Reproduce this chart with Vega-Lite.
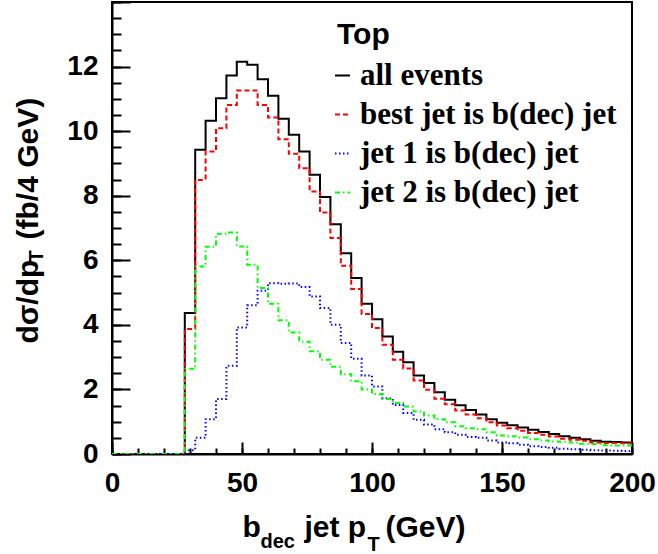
{
 "$schema": "https://vega.github.io/schema/vega-lite/v6.json",
 "width": 520, "height": 452,
 "autosize": {"type": "none"},
 "padding": {"left": 112, "top": 2, "right": 26, "bottom": 100},
 "background": "white",
 "config": {
  "view": {"stroke": "black", "strokeWidth": 2},
  "font": "Liberation Sans",
  "axis": {"grid": false, "domainColor": "black", "tickColor": "black", "labelColor": "black", "titleColor": "black", "domainWidth": 2, "tickWidth": 2, "labelFont": "Liberation Sans", "labelFontWeight": "bold", "labelFontSize": 28, "titleFont": "Liberation Sans", "titleFontWeight": "bold", "titleFontSize": 30, "labelFlush": false, "labelBound": false, "labelOverlap": false}
 },
 "data": {"values": [
  {"lo":0,"hi":4,"all events":0,"best jet is b(dec) jet":0,"jet 1 is b(dec) jet":0,"jet 2 is b(dec) jet":0},
  {"lo":4,"hi":8,"all events":0,"best jet is b(dec) jet":0,"jet 1 is b(dec) jet":0,"jet 2 is b(dec) jet":0},
  {"lo":8,"hi":12,"all events":0,"best jet is b(dec) jet":0,"jet 1 is b(dec) jet":0,"jet 2 is b(dec) jet":0},
  {"lo":12,"hi":16,"all events":0,"best jet is b(dec) jet":0,"jet 1 is b(dec) jet":0,"jet 2 is b(dec) jet":0},
  {"lo":16,"hi":20,"all events":0,"best jet is b(dec) jet":0,"jet 1 is b(dec) jet":0,"jet 2 is b(dec) jet":0},
  {"lo":20,"hi":24,"all events":0,"best jet is b(dec) jet":0,"jet 1 is b(dec) jet":0,"jet 2 is b(dec) jet":0},
  {"lo":24,"hi":28,"all events":0,"best jet is b(dec) jet":0,"jet 1 is b(dec) jet":0,"jet 2 is b(dec) jet":0},
  {"lo":28,"hi":32,"all events":4.37,"best jet is b(dec) jet":3.87,"jet 1 is b(dec) jet":0.12,"jet 2 is b(dec) jet":2.64},
  {"lo":32,"hi":36,"all events":9.42,"best jet is b(dec) jet":8.49,"jet 1 is b(dec) jet":0.50,"jet 2 is b(dec) jet":5.81},
  {"lo":36,"hi":40,"all events":10.32,"best jet is b(dec) jet":9.37,"jet 1 is b(dec) jet":1.08,"jet 2 is b(dec) jet":6.42},
  {"lo":40,"hi":44,"all events":11.02,"best jet is b(dec) jet":10.09,"jet 1 is b(dec) jet":1.70,"jet 2 is b(dec) jet":6.82},
  {"lo":44,"hi":48,"all events":11.72,"best jet is b(dec) jet":10.81,"jet 1 is b(dec) jet":2.73,"jet 2 is b(dec) jet":6.86},
  {"lo":48,"hi":52,"all events":12.15,"best jet is b(dec) jet":11.26,"jet 1 is b(dec) jet":3.92,"jet 2 is b(dec) jet":6.43},
  {"lo":52,"hi":56,"all events":12.06,"best jet is b(dec) jet":11.26,"jet 1 is b(dec) jet":4.61,"jet 2 is b(dec) jet":5.86},
  {"lo":56,"hi":60,"all events":11.61,"best jet is b(dec) jet":10.81,"jet 1 is b(dec) jet":5.06,"jet 2 is b(dec) jet":5.14},
  {"lo":60,"hi":64,"all events":11.10,"best jet is b(dec) jet":10.42,"jet 1 is b(dec) jet":5.29,"jet 2 is b(dec) jet":4.65},
  {"lo":64,"hi":68,"all events":10.38,"best jet is b(dec) jet":9.75,"jet 1 is b(dec) jet":5.27,"jet 2 is b(dec) jet":4.14},
  {"lo":68,"hi":72,"all events":9.89,"best jet is b(dec) jet":9.30,"jet 1 is b(dec) jet":5.28,"jet 2 is b(dec) jet":3.76},
  {"lo":72,"hi":76,"all events":9.37,"best jet is b(dec) jet":8.85,"jet 1 is b(dec) jet":5.17,"jet 2 is b(dec) jet":3.48},
  {"lo":76,"hi":80,"all events":8.65,"best jet is b(dec) jet":8.13,"jet 1 is b(dec) jet":4.88,"jet 2 is b(dec) jet":3.18},
  {"lo":80,"hi":84,"all events":7.96,"best jet is b(dec) jet":7.48,"jet 1 is b(dec) jet":4.52,"jet 2 is b(dec) jet":2.92},
  {"lo":84,"hi":88,"all events":7.12,"best jet is b(dec) jet":6.69,"jet 1 is b(dec) jet":4.00,"jet 2 is b(dec) jet":2.70},
  {"lo":88,"hi":92,"all events":6.22,"best jet is b(dec) jet":5.83,"jet 1 is b(dec) jet":3.44,"jet 2 is b(dec) jet":2.47},
  {"lo":92,"hi":96,"all events":5.45,"best jet is b(dec) jet":5.11,"jet 1 is b(dec) jet":2.95,"jet 2 is b(dec) jet":2.25},
  {"lo":96,"hi":100,"all events":4.65,"best jet is b(dec) jet":4.34,"jet 1 is b(dec) jet":2.43,"jet 2 is b(dec) jet":2.00},
  {"lo":100,"hi":104,"all events":4.17,"best jet is b(dec) jet":3.90,"jet 1 is b(dec) jet":2.09,"jet 2 is b(dec) jet":1.86},
  {"lo":104,"hi":108,"all events":3.64,"best jet is b(dec) jet":3.38,"jet 1 is b(dec) jet":1.73,"jet 2 is b(dec) jet":1.70},
  {"lo":108,"hi":112,"all events":3.17,"best jet is b(dec) jet":2.92,"jet 1 is b(dec) jet":1.52,"jet 2 is b(dec) jet":1.58},
  {"lo":112,"hi":116,"all events":2.84,"best jet is b(dec) jet":2.65,"jet 1 is b(dec) jet":1.27,"jet 2 is b(dec) jet":1.47},
  {"lo":116,"hi":120,"all events":2.43,"best jet is b(dec) jet":2.28,"jet 1 is b(dec) jet":1.06,"jet 2 is b(dec) jet":1.32},
  {"lo":120,"hi":124,"all events":2.20,"best jet is b(dec) jet":1.99,"jet 1 is b(dec) jet":0.91,"jet 2 is b(dec) jet":1.19},
  {"lo":124,"hi":128,"all events":1.91,"best jet is b(dec) jet":1.71,"jet 1 is b(dec) jet":0.77,"jet 2 is b(dec) jet":1.08},
  {"lo":128,"hi":132,"all events":1.68,"best jet is b(dec) jet":1.54,"jet 1 is b(dec) jet":0.67,"jet 2 is b(dec) jet":0.98},
  {"lo":132,"hi":136,"all events":1.51,"best jet is b(dec) jet":1.35,"jet 1 is b(dec) jet":0.60,"jet 2 is b(dec) jet":0.86},
  {"lo":136,"hi":140,"all events":1.36,"best jet is b(dec) jet":1.22,"jet 1 is b(dec) jet":0.53,"jet 2 is b(dec) jet":0.80},
  {"lo":140,"hi":144,"all events":1.22,"best jet is b(dec) jet":1.11,"jet 1 is b(dec) jet":0.50,"jet 2 is b(dec) jet":0.77},
  {"lo":144,"hi":148,"all events":1.08,"best jet is b(dec) jet":0.98,"jet 1 is b(dec) jet":0.42,"jet 2 is b(dec) jet":0.67},
  {"lo":148,"hi":152,"all events":0.97,"best jet is b(dec) jet":0.88,"jet 1 is b(dec) jet":0.36,"jet 2 is b(dec) jet":0.57},
  {"lo":152,"hi":156,"all events":0.89,"best jet is b(dec) jet":0.80,"jet 1 is b(dec) jet":0.33,"jet 2 is b(dec) jet":0.55},
  {"lo":156,"hi":160,"all events":0.82,"best jet is b(dec) jet":0.72,"jet 1 is b(dec) jet":0.29,"jet 2 is b(dec) jet":0.51},
  {"lo":160,"hi":164,"all events":0.75,"best jet is b(dec) jet":0.65,"jet 1 is b(dec) jet":0.24,"jet 2 is b(dec) jet":0.46},
  {"lo":164,"hi":168,"all events":0.68,"best jet is b(dec) jet":0.60,"jet 1 is b(dec) jet":0.22,"jet 2 is b(dec) jet":0.42},
  {"lo":168,"hi":172,"all events":0.62,"best jet is b(dec) jet":0.54,"jet 1 is b(dec) jet":0.19,"jet 2 is b(dec) jet":0.39},
  {"lo":172,"hi":176,"all events":0.55,"best jet is b(dec) jet":0.47,"jet 1 is b(dec) jet":0.16,"jet 2 is b(dec) jet":0.38},
  {"lo":176,"hi":180,"all events":0.50,"best jet is b(dec) jet":0.44,"jet 1 is b(dec) jet":0.15,"jet 2 is b(dec) jet":0.36},
  {"lo":180,"hi":184,"all events":0.46,"best jet is b(dec) jet":0.41,"jet 1 is b(dec) jet":0.13,"jet 2 is b(dec) jet":0.32},
  {"lo":184,"hi":188,"all events":0.41,"best jet is b(dec) jet":0.36,"jet 1 is b(dec) jet":0.12,"jet 2 is b(dec) jet":0.31},
  {"lo":188,"hi":192,"all events":0.38,"best jet is b(dec) jet":0.34,"jet 1 is b(dec) jet":0.11,"jet 2 is b(dec) jet":0.27},
  {"lo":192,"hi":196,"all events":0.37,"best jet is b(dec) jet":0.34,"jet 1 is b(dec) jet":0.10,"jet 2 is b(dec) jet":0.26},
  {"lo":196,"hi":200,"all events":0.36,"best jet is b(dec) jet":0.33,"jet 1 is b(dec) jet":0.09,"jet 2 is b(dec) jet":0.26}
 ]},
 "transform": [
  {"fold": ["all events", "best jet is b(dec) jet", "jet 1 is b(dec) jet", "jet 2 is b(dec) jet"], "as": ["series", "v"]},
  {"fold": ["lo", "hi"], "as": ["edge", "x"]}
 ],
 "layer": [
  {
   "mark": {"type": "line", "strokeWidth": 2, "clip": true},
   "encoding": {
    "x": {"field": "x", "type": "quantitative", "scale": {"domain": [0, 200], "nice": false, "zero": false},
     "axis": {"orient": "bottom", "values": [0, 50, 100, 150, 200], "ticks": false, "labelPadding": 15, "title": "b", "titleX": 130, "titleY": 82, "titleAlign": "left", "titleBaseline": "alphabetic"}},
    "y": {"field": "v", "type": "quantitative", "scale": {"domain": [0, 14], "nice": false},
     "axis": {"orient": "left", "values": [0, 2, 4, 6, 8, 10, 12], "ticks": false, "labelPadding": 14, "title": "dσ/dp", "titleX": -75, "titleY": 341, "titleAngle": 270, "titleAlign": "left", "titleBaseline": "alphabetic"}},
    "color": {"field": "series", "type": "nominal",
     "scale": {"domain": ["all events", "best jet is b(dec) jet", "jet 1 is b(dec) jet", "jet 2 is b(dec) jet"], "range": ["#000000", "#ff0000", "#0000ff", "#00ff00"]},
     "legend": {"orient": "none", "direction": "vertical", "legendX": 225, "legendY": 18, "title": "Top", "titleFont": "Liberation Sans", "titleFontSize": 30, "titleFontWeight": "bold", "titleColor": "black", "titlePadding": 10, "labelFont": "Liberation Serif", "labelFontSize": 31, "labelFontWeight": "bold", "labelColor": "black", "symbolType": "stroke", "symbolSize": 225, "symbolStrokeWidth": 2, "symbolOffset": -10, "labelOffset": 2, "rowPadding": 7, "padding": 0, "labelLimit": 400}},
    "strokeDash": {"field": "series", "type": "nominal",
     "scale": {"domain": ["all events", "best jet is b(dec) jet", "jet 1 is b(dec) jet", "jet 2 is b(dec) jet"], "range": [[1, 0], [5, 3], [1.5, 2.5], [5, 3, 1.5, 3]]}},
    "order": [{"field": "x", "type": "quantitative"}, {"field": "lo", "type": "quantitative"}]
   }
  },
  {
   "mark": {"type": "point", "opacity": 0},
   "encoding": {
    "x": {"field": "x", "type": "quantitative", "axis": {"orient": "bottom", "values": [0,10,20,30,40,50,60,70,80,90,100,110,120,130,140,150,160,170,180,190,200], "tickSize": -6, "labels": false, "domain": false, "title": "dec", "titleFontSize": 20, "titleX": 148, "titleY": 93, "titleAlign": "left", "titleBaseline": "alphabetic"}},
    "y": {"field": "v", "type": "quantitative", "axis": {"orient": "left", "values": [0,0.5,1,1.5,2,2.5,3,3.5,4,4.5,5,5.5,6,6.5,7,7.5,8,8.5,9,9.5,10,10.5,11,11.5,12,12.5,13,13.5,14], "tickSize": -9, "labels": false, "domain": false, "title": "T", "titleFontSize": 20, "titleX": -70, "titleY": 260, "titleAngle": 270, "titleAlign": "left", "titleBaseline": "alphabetic"}}
   }
  },
  {
   "mark": {"type": "point", "opacity": 0},
   "encoding": {
    "x": {"field": "x", "type": "quantitative", "axis": {"orient": "bottom", "values": [0, 50, 100, 150, 200], "tickSize": -12, "labels": false, "domain": false, "title": "jet p", "titleX": 192, "titleY": 82, "titleAlign": "left", "titleBaseline": "alphabetic"}},
    "y": {"field": "v", "type": "quantitative", "axis": {"orient": "left", "values": [0, 2, 4, 6, 8, 10, 12, 14], "tickSize": -18, "labels": false, "domain": false, "title": "(fb/4 GeV)", "titleX": -75, "titleY": 237, "titleAngle": 270, "titleAlign": "left", "titleBaseline": "alphabetic"}}
   }
  },
  {
   "mark": {"type": "point", "opacity": 0},
   "encoding": {
    "x": {"field": "x", "type": "quantitative", "axis": {"orient": "bottom", "ticks": false, "labels": false, "domain": false, "title": "T", "titleFontSize": 20, "titleX": 255, "titleY": 96, "titleAlign": "left", "titleBaseline": "alphabetic"}},
    "y": {"field": "v", "type": "quantitative", "axis": null}
   }
  },
  {
   "mark": {"type": "point", "opacity": 0},
   "encoding": {
    "x": {"field": "x", "type": "quantitative", "axis": {"orient": "bottom", "ticks": false, "labels": false, "domain": false, "title": "(GeV)", "titleX": 273, "titleY": 82, "titleAlign": "left", "titleBaseline": "alphabetic"}},
    "y": {"field": "v", "type": "quantitative", "axis": null}
   }
  }
 ],
 "resolve": {"axis": {"x": "independent", "y": "independent"}}
}
